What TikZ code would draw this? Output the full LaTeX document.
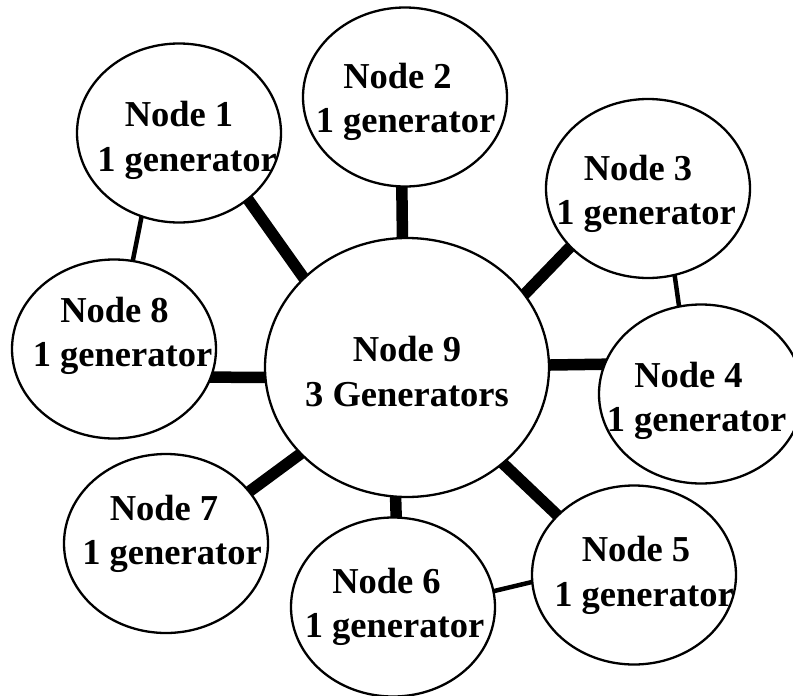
\documentclass[tikz,border=0pt]{standalone}
\usepackage{fontspec}
\setmainfont{Liberation Serif}
\usetikzlibrary{shapes.geometric,backgrounds}
\tikzset{
  bus/.style={ellipse,draw=black,line width=2.3pt,fill=white,inner sep=0pt,minimum width=204pt,minimum height=179pt},
  hub/.style={bus,minimum width=284pt,minimum height=259pt},
  txt/.style={align=center,inner sep=0pt,font=\bfseries\fontsize{36.5}{44.5}\selectfont},
  thick line/.style={line width=11.5pt,shorten <=-4pt,shorten >=-4pt},
  thin line/.style={line width=4.5pt,shorten <=-3pt,shorten >=-3pt}
}
\newcommand{\twolines}[2]{#1\hspace*{8pt}\\\hspace*{8pt}#2}
\begin{document}
\begin{tikzpicture}[x=1pt,y=-1pt]
\useasboundingbox (0,0) rectangle (793,696);
% ellipses
\node[bus] (n1) at (179,133) {};
\node[bus] (n2) at (405,97) {};
\node[bus] (n3) at (648,188.5) {};
\node[bus] (n4) at (701,394) {};
\node[bus] (n5) at (634,575) {};
\node[bus] (n6) at (393,607) {};
\node[bus] (n7) at (166,543.5) {};
\node[bus] (n8) at (114,349) {};
\node[hub] (n9) at (407,367.5) {};
% labels
\node[txt] (t1) at (183,140.4) {\twolines{Node 1}{1 generator}};
\node[txt] (t2) at (401.5,101.7) {\twolines{Node 2}{1 generator}};
\node[txt] (t3) at (642,193.7) {\twolines{Node 3}{1 generator}};
\node[txt] (t4) at (692.5,401) {\twolines{Node 4}{1 generator}};
\node[txt] (t5) at (640,575.4) {\twolines{Node 5}{1 generator}};
\node[txt] (t6) at (390.5,606.7) {\twolines{Node 6}{1 generator}};
\node[txt] (t7) at (168,533.7) {\twolines{Node 7}{1 generator}};
\node[txt] (t8) at (118.5,335.7) {\twolines{Node 8}{1 generator}};
\node[txt] (t9) at (407,371.7) {Node 9\\3 Generators};
% connectors
\begin{scope}[on background layer]
\draw[thick line] (n9.139) -- (n1.-44.6);
\draw[thick line] (n9.92.7) -- (n2.-92.5);
\draw[thick line] (n9.32.7) -- (n3.217);
\draw[thick line] (n9.1) -- (n4.163.4);
\draw[thick line] (n9.-45.5) -- (n5.142);
\draw[thick line] (n9.-95) -- (n6.88.4);
\draw[thick line] (n9.219.2) -- (n7.32.1);
\draw[thick line] (n9.184.6) -- (n8.-16.5);
\draw[thin line] (n1.246.2) -- (n8.78);
\draw[thin line] (n3.-73) -- (n4.104.5);
\draw[thin line] (n5.184.5) -- (n6.9.6);
\end{scope}
\end{tikzpicture}
\end{document}
